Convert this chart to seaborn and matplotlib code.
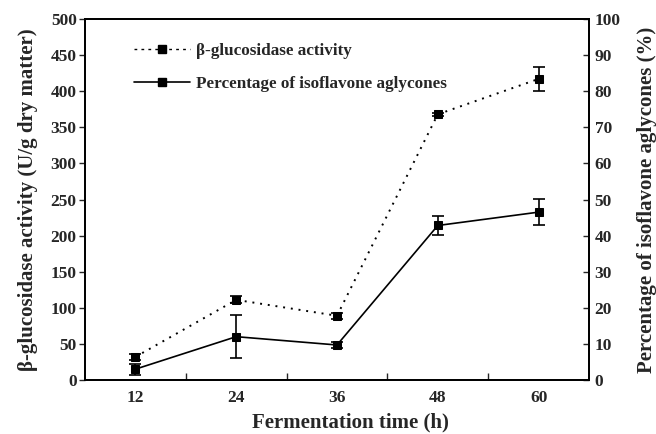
import matplotlib
matplotlib.use("Agg")
import matplotlib.pyplot as plt
import seaborn as sns
import pandas as pd
from matplotlib.ticker import FixedLocator
from matplotlib.lines import Line2D

time_h = [12, 24, 36, 48, 60]
glucosidase = [32, 111, 89, 368, 417]
glucosidase_err = [4, 5, 4, 2, 17]
aglycones = [3.0, 12.0, 9.7, 42.8, 46.5]
aglycones_err = [1.5, 6.0, 0.8, 2.6, 3.6]

sns.set_theme(style="ticks")
plt.rcParams['font.family'] = ['Liberation Serif', 'DejaVu Serif']
plt.rcParams['font.weight'] = 'bold'
plt.rcParams['axes.labelweight'] = 'bold'

df = pd.DataFrame({"time": time_h, "glu": glucosidase, "agl": aglycones})

fig = plt.figure(figsize=(6.56, 4.34), dpi=100)
ax = fig.add_axes([85/656, 1-380/434, (589-85)/656, (380-19)/434])
ax2 = ax.twinx()

dot_style = (0, (1, 3))
ms = 5.5
sns.lineplot(data=df, x="time", y="glu", ax=ax, color="black", linestyle=dot_style,
             linewidth=1.4, marker="s", markersize=ms, markeredgecolor="black", legend=False)
ax.errorbar(time_h, glucosidase, yerr=glucosidase_err, fmt="none", ecolor="black",
            elinewidth=1.2, capsize=4, capthick=1.2)
sns.lineplot(data=df, x="time", y="agl", ax=ax2, color="black", linestyle="-",
             linewidth=1.2, marker="s", markersize=ms, markeredgecolor="black", legend=False)
ax2.errorbar(time_h, aglycones, yerr=aglycones_err, fmt="none", ecolor="black",
             elinewidth=1.2, capsize=4, capthick=1.2)

ax.set_xlim(6, 66)
ax.set_ylim(0, 500)
ax2.set_ylim(0, 100)
ax.set_xticks(time_h)
ax.set_xticklabels([str(t) for t in time_h])
ax.xaxis.set_minor_locator(FixedLocator([18, 30, 42, 54]))
ax.tick_params(axis="x", which="major", length=0, pad=7, labelsize=12.5)
ax.tick_params(axis="x", which="minor", direction="in", length=5, width=1)
ax.set_yticks(range(0, 501, 50))
ax.tick_params(axis="y", direction="out", length=4, width=1, labelsize=12.5, pad=2)
ax2.set_yticks(range(0, 101, 10))
ax2.tick_params(axis="y", direction="in", length=4, width=1, labelsize=12.5, pad=4)
for a in (ax, ax2):
    for lab in a.get_xticklabels() + a.get_yticklabels():
        lab.set_fontweight("bold")
    for s in a.spines.values():
        s.set_visible(True)
        s.set_linewidth(1.3)
        s.set_color("black")

ax.set_xlabel("Fermentation time (h)", fontsize=15, fontweight="bold")
ax.xaxis.set_label_coords(0.526, -0.09)
ax.set_ylabel("β-glucosidase activity (U/g dry matter)", fontsize=15, fontweight="bold", labelpad=9)
ax2.set_ylabel("Percentage of isoflavone aglycones (%)", fontsize=15, fontweight="bold", labelpad=12)

handles = [
    Line2D([], [], color="black", linestyle=(0, (2, 3)), linewidth=1.0, marker="s", markersize=ms),
    Line2D([], [], color="black", linestyle="-", linewidth=1.2, marker="s", markersize=ms),
]
leg = ax.legend(handles, ["β-glucosidase activity", "Percentage of isoflavone aglycones"],
                loc="upper left", bbox_to_anchor=(0.066, 0.975), frameon=False,
                prop={"weight": "bold", "size": 12.3}, handlelength=3.3, labelspacing=0.95,
                handletextpad=0.35)

fig.savefig("out.png", dpi=100)
